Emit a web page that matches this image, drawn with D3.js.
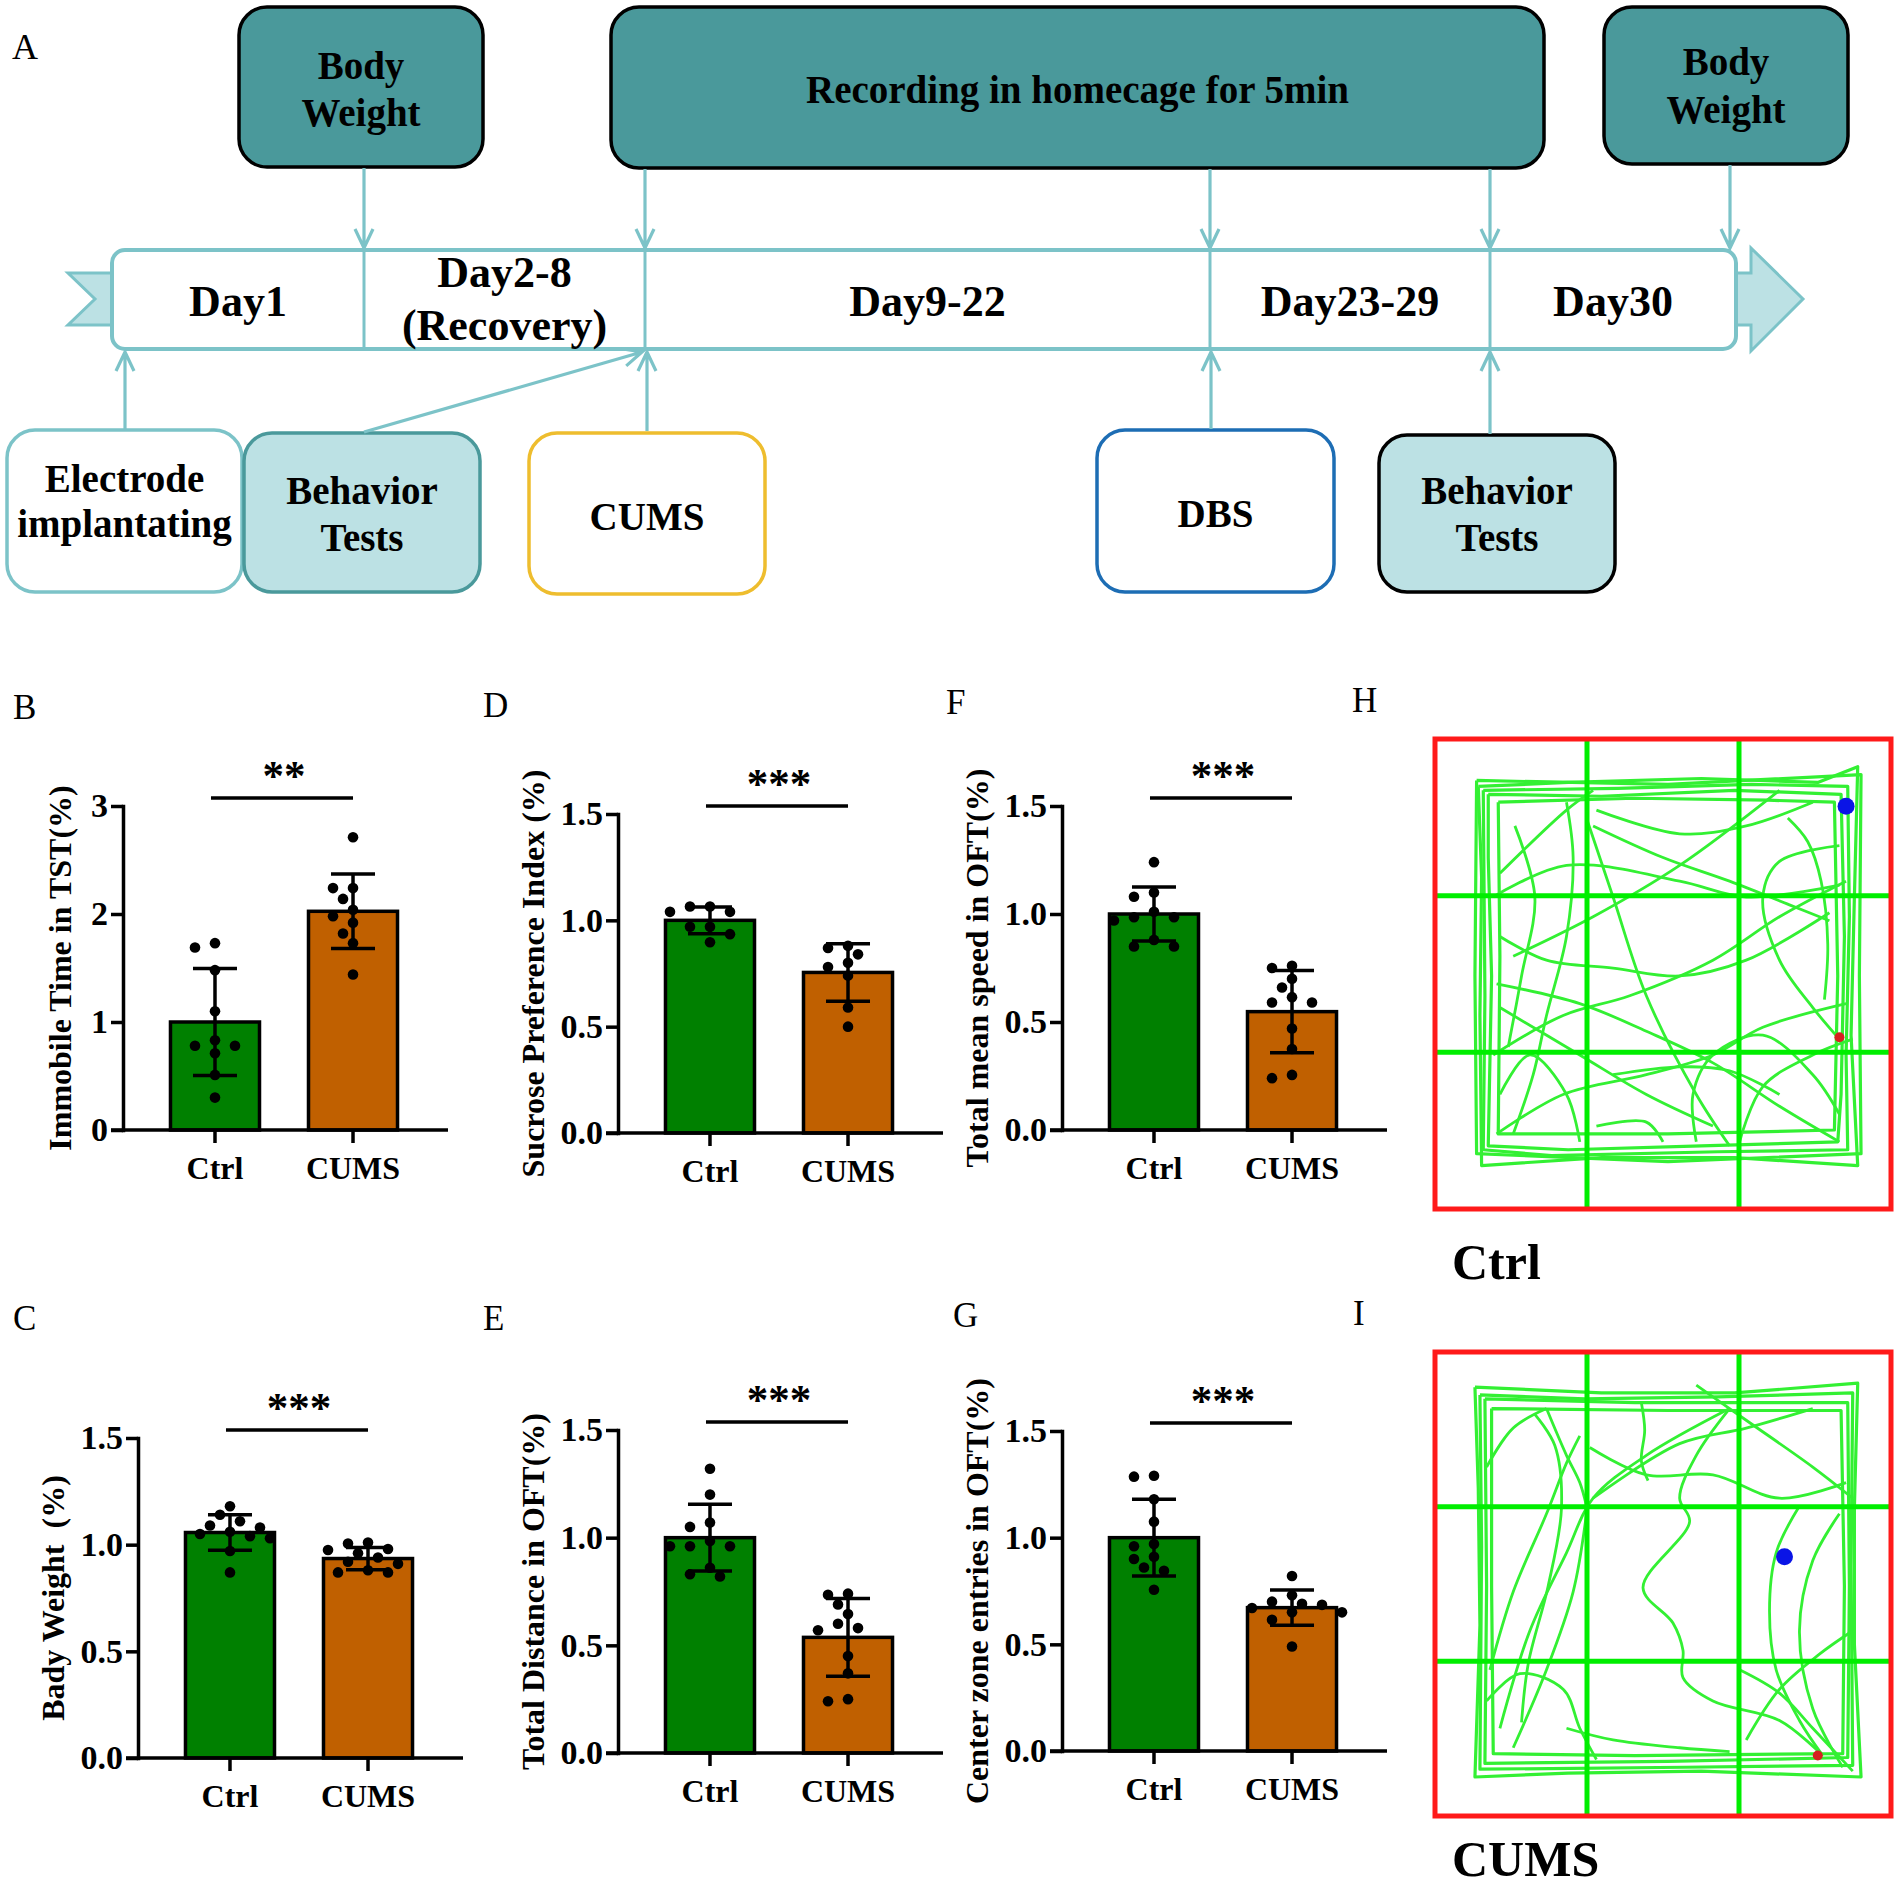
<!DOCTYPE html>
<html><head><meta charset="utf-8">
<script src="https://cdn.jsdelivr.net/npm/d3@7"></script>
<style>body{margin:0;background:#fff}svg{display:block}</style>
</head><body>
<svg id="fig" width="1902" height="1889"></svg>
<script>
// ---------------- DATA ----------------
const groups = ["Ctrl", "CUMS"];
const ticksTST = [0, 1, 2, 3];
const tickLabelsTST = ["0", "1", "2", "3"];
const ticksRatio = [0, 0.5, 1.0, 1.5];
const tickLabelsRatio = ["0.0", "0.5", "1.0", "1.5"];

// B: Immobile time in TST
const tstCtrl = [1.69, 1.73, 1.48, 1.10, 0.78, 0.78, 0.83, 0.71, 0.51, 0.30];
const tstCums = [2.71, 2.24, 2.24, 2.14, 2.04, 1.98, 1.92, 1.82, 1.73, 1.44];
const tstMean = [1.00, 2.025];
const tstSD = [0.495, 0.345];
// D: Sucrose preference
const spiCtrl = [1.04, 1.065, 1.04, 1.065, 0.97, 0.97, 0.935, 0.897];
const spiCums = [0.88, 0.87, 0.84, 0.80, 0.78, 0.74, 0.59, 0.50];
const spiMean = [1.00, 0.755];
const spiSD = [0.063, 0.135];
// F: Total mean speed
const speedCtrl = [1.24, 1.08, 1.10, 1.01, 0.985, 0.97, 0.985, 0.88, 0.85, 0.85];
const speedCums = [0.76, 0.75, 0.70, 0.66, 0.615, 0.59, 0.59, 0.47, 0.375, 0.24, 0.255];
const speedMean = [1.00, 0.548];
const speedSD = [0.125, 0.19];
// C: Body weight
const bwCtrl = [1.18, 1.14, 1.11, 1.08, 1.09, 1.06, 1.04, 1.05, 1.03, 0.97, 0.87];
const bwCums = [1.01, 1.005, 0.98, 0.975, 0.96, 0.94, 0.91, 0.92, 0.87, 0.88, 0.87];
const bwMean = [1.057, 0.935];
const bwSD = [0.083, 0.052];
// E: Total distance
const distCtrl = [1.32, 1.20, 1.05, 1.07, 0.985, 0.96, 0.96, 0.96, 0.86, 0.82, 0.83];
const distCums = [0.735, 0.74, 0.69, 0.645, 0.60, 0.57, 0.58, 0.45, 0.37, 0.24, 0.25];
const distMean = [1.00, 0.537];
const distSD = [0.155, 0.18];
// G: Center zone entries
const centerCtrl = [1.286, 1.29, 1.18, 1.075, 0.97, 0.96, 0.91, 0.90, 0.86, 0.845, 0.756];
const centerCums = [0.82, 0.73, 0.69, 0.70, 0.685, 0.67, 0.65, 0.65, 0.615, 0.49];
const centerMean = [1.00, 0.672];
const centerSD = [0.18, 0.083];

const sigLabels = ["**", "***", "***", "***", "***", "***"];
const yTitles = ["Immobile Time in TST(%)", "Sucrose Preference Index (%)", "Total mean speed in OFT(%)",
                 "Bady Weight\u00a0\u00a0(%)", "Total Distance in OFT(%)", "Center zone entries in OFT(%)"];

// Panel A timeline
const dayLabels = [["Day1"], ["Day2-8", "(Recovery)"], ["Day9-22"], ["Day23-29"], ["Day30"]];
const topEvents = [["Body", "Weight"], ["Recording in homecage for 5min"], ["Body", "Weight"]];
const bottomEvents = [["Electrode", "implantating"], ["Behavior", "Tests"], ["CUMS"], ["DBS"], ["Behavior", "Tests"]];

// Open-field trajectories (arena units, 137 x 119); loops hug the walls
const gridFractions = [1 / 3, 2 / 3];
const ctrlLoops = [
  [[13,12],[40,11],[80,10],[115,11],[127,7],[126,40],[125,75],[127,108],[90,106],[50,106],[14,108],[13.5,70],[14,35],[13,12]],
  [[16,14],[50,14.5],[90,13],[122,14],[123,50],[122,90],[121,102],[80,103],[40,104],[16,103],[17,60],[16,30],[16,14]],
  [[19,16],[60,15],[100,15.5],[120,16],[121,60],[120,99],[70,100],[19,100],[19.5,55],[19,16]],
  [[12.5,10.5],[70,11.5],[128,9],[127.5,60],[128,105],[70,107],[12.5,105],[12,60],[12.5,10.5]],
  [[14.5,13],[55,12.5],[95,11.5],[124,12],[124.5,45],[123.5,80],[124,104],[85,104.5],[35,105.5],[14.5,104],[15,65],[14.5,13]]
];
const ctrlPaths = [
  [[19.5,34],[39.5,18],[47.5,13]],
  [[17.5,40],[39.5,32],[73.5,36],[93.5,40],[121.5,37]],
  [[103.5,13],[73.5,32],[47.5,45],[23.5,55]],
  [[47.5,22],[68.5,30],[88.5,36],[106.5,42],[118.5,46]],
  [[121.5,27],[103.5,31],[98.5,40],[103.5,56],[113.5,68],[121.5,76]],
  [[19.5,50],[33.5,56],[53.5,58],[73.5,60],[93.5,56],[118.5,44]],
  [[18.5,62],[43.5,67],[63.5,74],[83.5,82],[103.5,93],[121.5,102]],
  [[17.5,80],[38.5,70],[58.5,65],[83.5,56],[103.5,45],[123.5,36]],
  [[45.5,20],[53.5,40],[63.5,65],[78.5,90],[88.5,103]],
  [[18.5,100],[38.5,90],[63.5,85],[83.5,80],[98.5,73],[123.5,67]],
  [[19.5,90],[28.5,80],[39.5,90],[43.5,102]],
  [[39.5,16],[41.5,30],[39.5,50],[33.5,70],[29.5,85],[23.5,100]],
  [[91.5,102],[98.5,88],[113.5,80],[125.5,76]],
  [[48.5,98],[63.5,97],[68.5,102]],
  [[53.5,85],[73.5,83],[88.5,84],[103.5,90]],
  [[78.5,102],[77.5,90],[83.5,80],[98.5,75],[113.5,85],[121.5,95]],
  [[19.5,68],[43.5,80],[63.5,90],[83.5,98]],
  [[48.5,18],[73.5,24],[93.5,22],[113.5,16]],
  [[106,20],[112,26],[116,36],[118,52],[117,66]],
  [[24,22],[30,40],[26,60],[22,78]]
];
const cumsLoops = [
  [[12,9],[50,10.5],[90,10.5],[127,8],[126,40],[126,75],[128,109],[80,107.5],[40,108],[12,109],[13.5,70],[13,35],[12,9]],
  [[15,12],[60,13],[100,13],[124,13],[124.5,60],[124,104],[70,105],[15,105.5],[15.5,60],[15,12]],
  [[17,14.5],[70,15],[122,15],[123,60],[122.5,103],[60,103.5],[17.5,103],[17,60],[17,14.5]],
  [[13.5,11],[45,12],[85,11.5],[125.5,10.5],[125,55],[125.5,106],[75,106.5],[13.5,107],[14,50],[13.5,11]]
];
const cumsPaths = [
  [[15.5,29.5],[23.5,19.5],[33.5,14.5]],
  [[16.5,81.5],[23.5,61.5],[33.5,41.5],[39.5,28.5],[43.5,21.5]],
  [[19.5,96.5],[28.5,71.5],[39.5,51.5],[47.5,37.5],[63.5,26.5],[88.5,14.5]],
  [[23.5,101.5],[33.5,81.5],[41.5,61.5],[45.5,41.5]],
  [[33.5,14.5],[39.5,26.5],[43.5,33.5],[45.5,39.5]],
  [[88.5,14.5],[78.5,26.5],[73.5,37.5],[76.5,43.5],[62.5,60.5],[71.5,69.5],[74.5,76.5],[74.5,83.5],[83.5,89.5],[103.5,94.5],[116.5,103.5]],
  [[47.5,37.5],[73.5,23.5],[93.5,19.5],[113.5,14.5]],
  [[46.5,24.5],[63.5,31.5],[83.5,31.5],[103.5,37.5],[123.5,33.5]],
  [[109.5,39.5],[102.5,51.5],[100.5,66.5],[102.5,81.5],[109.5,94.5],[116.5,103.5]],
  [[121.5,41.5],[113.5,53.5],[109.5,71.5],[113.5,91.5],[122.5,106.5]],
  [[15.5,89.5],[25.5,82.5],[38.5,86.5],[43.5,96.5],[48.5,104.5]],
  [[39.5,96.5],[53.5,99.5],[73.5,101.5],[88.5,102.5]],
  [[91.5,81.5],[103.5,87.5],[113.5,96.5],[125.5,107.5]],
  [[93.5,99.5],[103.5,86.5],[115.5,77.5],[125.5,71.5]],
  [[78.5,8.5],[93.5,17.5],[113.5,29.5],[125.5,37.5]],
  [[62,13],[63,20],[62,28],[64,33]],
  [[30,16],[36,24],[38,40],[34,60],[28,80],[26,95]]
];
const ctrlStart = [123.5, 17], ctrlEnd = [121.5, 75.5];
const cumsStart = [105, 52.5], cumsEnd = [115, 103.5];

// ---------------- DRAWING ----------------
const FONT = "'Liberation Serif','Times New Roman',Times,serif";
const svg = d3.select("#fig");
svg.append("rect").attr("width", 1902).attr("height", 1889).attr("fill", "#fff");
const teal = "#7cc3c8", tealDark = "#4a999b", tealLight = "#bce1e4";
const barColors = ["#008000", "#c06000"];

function txt(g, x, y, s, size, weight, anchor) {
  return g.append("text").attr("x", x).attr("y", y).text(s)
    .attr("font-family", FONT).attr("font-size", size).attr("font-weight", weight || "normal")
    .attr("text-anchor", anchor || "start").attr("fill", "#000").style("white-space", "pre");
}
function arrow(g, x1, y1, x2, y2) {
  const a = Math.atan2(y2 - y1, x2 - x1), L = 19, w = 9;
  const bx = x2 - L * Math.cos(a), by = y2 - L * Math.sin(a);
  const px = -Math.sin(a) * w, py = Math.cos(a) * w;
  g.append("path").attr("d", `M${x1},${y1}L${x2},${y2}M${bx + px},${by + py}L${x2},${y2}L${bx - px},${by - py}`)
    .attr("fill", "none").attr("stroke", teal).attr("stroke-width", 3.2);
}

// ---- Panel A ----
const gA = svg.append("g");
txt(gA, 12, 59, "A", 36);
const segBounds = [112, 364, 645, 1210, 1490, 1736];
gA.append("polygon").attr("points", "112,273 68,273 95,299 68,325 112,325")
  .attr("fill", tealLight).attr("stroke", teal).attr("stroke-width", 3);
gA.append("polygon").attr("points", "1725,273 1751,273 1751,248 1803,299 1751,351 1751,325 1725,325")
  .attr("fill", tealLight).attr("stroke", teal).attr("stroke-width", 3);
gA.append("rect").attr("x", 112).attr("y", 250).attr("width", 1624).attr("height", 99).attr("rx", 13)
  .attr("fill", "#fff").attr("stroke", teal).attr("stroke-width", 4);
segBounds.slice(1, -1).forEach(x => gA.append("line").attr("x1", x).attr("x2", x).attr("y1", 250).attr("y2", 349)
  .attr("stroke", teal).attr("stroke-width", 3));
dayLabels.forEach((lines, i) => {
  const cx = (segBounds[i] + segBounds[i + 1]) / 2;
  const base = lines.length === 1 ? [316] : [287, 340];
  lines.forEach((s, j) => txt(gA, cx, base[j], s, 44, "bold", "middle"));
});
const topBoxes = [
  { x: 239, y: 7, w: 244, h: 160, base: [79, 126] },
  { x: 611, y: 7, w: 933, h: 161, base: [103] },
  { x: 1604, y: 7, w: 244, h: 157, base: [75, 123] }
];
topBoxes.forEach((b, i) => {
  gA.append("rect").attr("x", b.x).attr("y", b.y).attr("width", b.w).attr("height", b.h).attr("rx", 28)
    .attr("fill", tealDark).attr("stroke", "#000").attr("stroke-width", 3.5);
  topEvents[i].forEach((s, j) => txt(gA, b.x + b.w / 2, b.base[j], s, 39, "bold", "middle"));
});
const botBoxes = [
  { x: 7, y: 430, w: 235, h: 162, fill: "#fff", stroke: teal, base: [492, 537] },
  { x: 244, y: 433, w: 236, h: 159, fill: tealLight, stroke: tealDark, base: [504, 551] },
  { x: 529, y: 433, w: 236, h: 161, fill: "#fff", stroke: "#eebd2e", base: [530] },
  { x: 1097, y: 430, w: 237, h: 162, fill: "#fff", stroke: "#1d6db4", base: [527] },
  { x: 1379, y: 435, w: 236, h: 157, fill: tealLight, stroke: "#000", base: [504, 551] }
];
botBoxes.forEach((b, i) => {
  gA.append("rect").attr("x", b.x).attr("y", b.y).attr("width", b.w).attr("height", b.h).attr("rx", 28)
    .attr("fill", b.fill).attr("stroke", b.stroke).attr("stroke-width", 3.5);
  bottomEvents[i].forEach((s, j) => txt(gA, b.x + b.w / 2, b.base[j], s, 39, "bold", "middle"));
});
arrow(gA, 364, 168, 364, 248);
[645, 1210, 1490].forEach(x => arrow(gA, x, 169, x, 248));
arrow(gA, 1730, 165, 1730, 248);
arrow(gA, 125, 429, 125, 352);
arrow(gA, 364, 432, 642, 352);
arrow(gA, 647, 431, 647, 352);
arrow(gA, 1211, 429, 1211, 352);
arrow(gA, 1490, 434, 1490, 352);

// ---- Bar panels ----
function swarm(vals, y, minD, step) {
  const pts = vals.map((v, i) => ({ v, i, py: y(v), dx: 0 }));
  const order = pts.slice().sort((a, b) => b.v - a.v);
  const placed = [];
  for (const p of order) {
    for (let k = 0; k < 40; k++) {
      const m = k === 0 ? 0 : (k % 2 ? -Math.ceil(k / 2) : Math.ceil(k / 2));
      const dx = m * step;
      if (placed.every(q => (q.dx - dx) ** 2 + (q.py - p.py) ** 2 >= minD * minD)) { p.dx = dx; placed.push(p); break; }
    }
  }
  return pts;
}

const panels = [
  { letter: "B", lx: 13, ly: 719, ax: 123, y0: 1130, y1: 806, max: 3, ticks: ticksTST, tl: tickLabelsTST, vals: [tstCtrl, tstCums], mean: tstMean, sd: tstSD, tx: 60 },
  { letter: "D", lx: 483, ly: 717, ax: 618, y0: 1133, y1: 814, max: 1.5, ticks: ticksRatio, tl: tickLabelsRatio, vals: [spiCtrl, spiCums], mean: spiMean, sd: spiSD, tx: 533 },
  { letter: "F", lx: 946, ly: 714, ax: 1062, y0: 1130, y1: 806, max: 1.5, ticks: ticksRatio, tl: tickLabelsRatio, vals: [speedCtrl, speedCums], mean: speedMean, sd: speedSD, tx: 977 },
  { letter: "C", lx: 13, ly: 1330, ax: 138, y0: 1758, y1: 1438, max: 1.5, ticks: ticksRatio, tl: tickLabelsRatio, vals: [bwCtrl, bwCums], mean: bwMean, sd: bwSD, tx: 53 },
  { letter: "E", lx: 483, ly: 1330, ax: 618, y0: 1753, y1: 1430, max: 1.5, ticks: ticksRatio, tl: tickLabelsRatio, vals: [distCtrl, distCums], mean: distMean, sd: distSD, tx: 533 },
  { letter: "G", lx: 953, ly: 1327, ax: 1062, y0: 1751, y1: 1431, max: 1.5, ticks: ticksRatio, tl: tickLabelsRatio, vals: [centerCtrl, centerCums], mean: centerMean, sd: centerSD, tx: 977 }
];

panels.forEach((c, pi) => {
  const g = svg.append("g");
  txt(g, c.lx, c.ly, c.letter, 35);
  const y = d3.scaleLinear().domain([0, c.max]).range([c.y0, c.y1]);
  const x = d3.scaleBand().domain(groups).range([c.ax, c.ax + 322]).paddingInner(0.355).paddingOuter(0.344);
  const bw = x.bandwidth();
  const cx = d => x(d) + bw / 2;
  g.selectAll("rect.bar").data(groups).join("rect").attr("class", "bar")
    .attr("x", d => x(d)).attr("y", (d, i) => y(c.mean[i]))
    .attr("width", bw).attr("height", (d, i) => y(0) - y(c.mean[i]))
    .attr("fill", (d, i) => barColors[i]).attr("stroke", "#000").attr("stroke-width", 3.5);
  const gy = g.append("g").attr("transform", `translate(${c.ax},0)`)
    .call(d3.axisLeft(y).tickValues(c.ticks).tickFormat((d, i) => c.tl[i]).tickSize(12).tickSizeOuter(0).tickPadding(3));
  gy.selectAll("path,line").attr("stroke", "#000").attr("stroke-width", 3.5);
  gy.select(".domain").attr("stroke-linecap", "square");
  gy.selectAll("text").attr("font-family", FONT).attr("font-weight", "bold").attr("font-size", 34).attr("fill", "#000");
  const gx = g.append("g").attr("transform", `translate(0,${c.y0})`)
    .call(d3.axisBottom(x).tickSize(13).tickSizeOuter(0).tickPadding(13));
  gx.select(".domain").remove();
  gx.append("line").attr("x1", c.ax - 12).attr("x2", c.ax + 325).attr("stroke", "#000").attr("stroke-width", 3.5);
  gx.selectAll("line").attr("stroke", "#000").attr("stroke-width", 3.5);
  gx.selectAll("text").attr("font-family", FONT).attr("font-weight", "bold").attr("font-size", 32).attr("fill", "#000");
  groups.forEach((gname, i) => {
    const m = c.mean[i], s = c.sd[i], X = cx(gname);
    const eg = g.append("g").attr("stroke", "#000").attr("stroke-width", 3.5);
    eg.append("line").attr("x1", X).attr("x2", X).attr("y1", y(m + s)).attr("y2", y(m - s));
    eg.append("line").attr("x1", X - 22).attr("x2", X + 22).attr("y1", y(m + s)).attr("y2", y(m + s));
    eg.append("line").attr("x1", X - 22).attr("x2", X + 22).attr("y1", y(m - s)).attr("y2", y(m - s));
    const pts = swarm(c.vals[i], y, 12.5, 10);
    g.append("g").selectAll("circle").data(pts).join("circle")
      .attr("cx", p => X + p.dx).attr("cy", p => p.py).attr("r", 5.3).attr("fill", "#000");
  });
  const ly = c.y1 - 8;
  g.append("line").attr("x1", cx(groups[0]) - 4).attr("x2", cx(groups[1])).attr("y1", ly).attr("y2", ly)
    .attr("stroke", "#000").attr("stroke-width", 3.5);
  txt(g, (cx(groups[0]) + cx(groups[1])) / 2, ly - 8, sigLabels[pi], 43, "bold", "middle");
  g.append("text").attr("transform", `translate(${c.tx},${(c.y0 + c.y1) / 2}) rotate(-90)`)
    .attr("text-anchor", "middle").attr("dy", "0.35em").text(yTitles[pi])
    .attr("font-family", FONT).attr("font-weight", "bold").attr("font-size", 32).style("white-space", "pre");
});

// ---- Arena panels H & I ----
function arena(letter, lx, ly, box, loops, paths, start, end, label, labelY) {
  const g = svg.append("g");
  txt(g, lx, ly, letter, 35);
  const xs = d3.scaleLinear().domain([0, 137]).range([box.x0, box.x1]);
  const ys = d3.scaleLinear().domain([0, 119]).range([box.y0, box.y1]);
  const lin = d3.line().x(d => xs(d[0])).y(d => ys(d[1]));
  const cur = d3.line().x(d => xs(d[0])).y(d => ys(d[1])).curve(d3.curveCatmullRom.alpha(0.5));
  g.append("g").selectAll("path").data(loops).join("path").attr("d", lin)
    .attr("fill", "none").attr("stroke", "#33f033").attr("stroke-width", 3.2).attr("stroke-linejoin", "round");
  g.append("g").selectAll("path").data(paths).join("path").attr("d", cur)
    .attr("fill", "none").attr("stroke", "#33f033").attr("stroke-width", 2.8);
  gridFractions.forEach(f => {
    g.append("line").attr("x1", xs(137 * f)).attr("x2", xs(137 * f)).attr("y1", box.y0).attr("y2", box.y1)
      .attr("stroke", "#00ee00").attr("stroke-width", 5);
    g.append("line").attr("y1", ys(119 * f)).attr("y2", ys(119 * f)).attr("x1", box.x0).attr("x2", box.x1)
      .attr("stroke", "#00ee00").attr("stroke-width", 5);
  });
  g.append("rect").attr("x", box.x0).attr("y", box.y0).attr("width", box.x1 - box.x0).attr("height", box.y1 - box.y0)
    .attr("fill", "none").attr("stroke", "#ff1a1a").attr("stroke-width", 5);
  g.append("circle").attr("cx", xs(start[0])).attr("cy", ys(start[1])).attr("r", 8.5).attr("fill", "#0a14e6");
  g.append("circle").attr("cx", xs(end[0])).attr("cy", ys(end[1])).attr("r", 5).attr("fill", "#d62020");
  txt(g, 1452, labelY, label, 50, "bold");
}
arena("H", 1352, 712, { x0: 1435, x1: 1891, y0: 739, y1: 1209 }, ctrlLoops, ctrlPaths, ctrlStart, ctrlEnd, "Ctrl", 1279);
arena("I", 1353, 1325, { x0: 1435, x1: 1891, y0: 1352, y1: 1816 }, cumsLoops, cumsPaths, cumsStart, cumsEnd, "CUMS", 1876);
</script>
</body></html>
